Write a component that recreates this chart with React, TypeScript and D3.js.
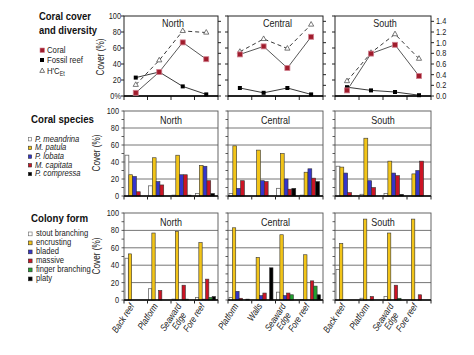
import React from "react";
import * as d3 from "d3";

const FONT = "'Liberation Sans',Arial,sans-serif";
const SQ = 0.82; // horizontal condensing to mimic a narrow face

// ---------- data ----------
const regions = ["North", "Central", "South"];
const habitatsNorth = ["Back reef", "Platform", "Seaward|Edge", "Fore reef"];
const habitatsCentral = ["Platform", "Walls", "Seaward|Edge", "Fore reef"];
const habitatsSouth = ["Back reef", "Platform", "Seaward|Edge", "Fore reef"];

// Coral cover and diversity
const coralNorth = [4, 30, 67, 46];
const coralCentral = [52, 62, 35, 74];
const coralSouth = [7, 53, 64, 25];
const fossilNorth = [23, 30, 12, 2];
const fossilCentral = [10, 4, 10, 2];
const fossilSouth = [11, 7, 5, 1];
const hceNorth = [0.21, 0.67, 1.22, 1.19];
const hceCentral = [0.83, 1.07, 0.89, 1.34];
const hceSouth = [0.28, 0.81, 1.16, 0.7];

// Coral species (series x habitat)
const speciesNames = ["P. meandrina", "M. patula", "P. lobata", "M. capitata", "P. compressa"];
const speciesColors = ["#ffffff", "#f2c418", "#3535cc", "#cc1424", "#000000"];
const speciesNorth = [
  [48, 12, 1, 3],
  [25, 45, 48, 36],
  [23, 17, 25, 35],
  [5, 13, 25, 18],
  [0, 0, 1, 3],
];
const speciesCentral = [
  [3, 0, 9, 1],
  [59, 54, 50, 28],
  [9, 18, 20, 32],
  [18, 17, 8, 21],
  [0, 0, 9, 17],
];
const speciesSouth = [
  [35, 2, 3, 0],
  [34, 68, 41, 26],
  [27, 18, 27, 30],
  [4, 10, 24, 41],
  [0, 0, 2, 0],
];

// Colony form (series x habitat)
const formNames = ["stout branching", "encrusting", "bladed", "massive", "finger branching", "platy"];
const formColors = ["#ffffff", "#f2c418", "#3535cc", "#cc1424", "#22a030", "#000000"];
const formNorth = [
  [48, 13, 1, 3],
  [53, 77, 79, 66],
  [0, 0, 0, 1],
  [0, 11, 17, 24],
  [0, 0, 1, 3],
  [0, 0, 0, 4],
];
const formCentral = [
  [3, 0, 9, 0.5],
  [83, 49, 75, 52],
  [10, 5, 5, 0],
  [2, 8, 8, 22],
  [0, 0, 6, 16],
  [1, 37, 0, 6],
];
const formSouth = [
  [35, 2, 4, 0],
  [65, 93, 77, 93],
  [0, 0, 0, 0],
  [0, 4, 17, 6],
  [0, 0, 2, 0],
  [0, 0, 0, 0],
];

const yTicksPct = [0, 20, 40, 60, 80, 100];
const yTicksRight = [0, 0.2, 0.4, 0.6, 0.8, 1.0, 1.2, 1.4];

// ---------- layout ----------
const panelX: [number, number][] = [
  [124, 218],
  [228, 323],
  [335, 431],
];
const habitatSets = [habitatsNorth, habitatsCentral, habitatsSouth];
const coralSets = [coralNorth, coralCentral, coralSouth];
const fossilSets = [fossilNorth, fossilCentral, fossilSouth];
const hceSets = [hceNorth, hceCentral, hceSouth];
const speciesSets = [speciesNorth, speciesCentral, speciesSouth];
const formSets = [formNorth, formCentral, formSouth];

const yTop = d3.scaleLinear().domain([0, 100]).range([96, 16]);
const yRight = d3.scaleLinear().domain([0, 1.5]).range([96, 16]);
const yMid = d3.scaleLinear().domain([0, 100]).range([196, 111]);
const yBot = d3.scaleLinear().domain([0, 100]).range([300, 213]);

function bandFor(idx: number) {
  return d3.scaleBand<number>().domain(d3.range(4)).range(panelX[idx]).paddingInner(0).paddingOuter(0);
}

function T(props: {
  x: number;
  y: number;
  size: number;
  anchor?: string;
  italic?: boolean;
  rotate?: number;
  children: React.ReactNode;
}) {
  const { x, y, size, anchor = "start", italic = false, rotate = 0, children } = props;
  return (
    <text
      transform={`translate(${x},${y}) rotate(${rotate}) scale(${SQ},1)`}
      fontSize={size}
      textAnchor={anchor}
      fontStyle={italic ? "italic" : "normal"}
      fontFamily={FONT}
      fill="#222"
    >
      {children}
    </text>
  );
}

function TopPanel({ idx }: { idx: number }) {
  const [x0, x1] = panelX[idx];
  const x = bandFor(idx);
  const cx = (i: number) => (x(i) as number) + x.bandwidth() / 2;
  const coral = coralSets[idx];
  const fossil = fossilSets[idx];
  const hce = hceSets[idx];
  const linePct = d3.line<number>().x((_, i) => cx(i)).y((d) => yTop(d));
  const lineR = d3.line<number>().x((_, i) => cx(i)).y((d) => yRight(d));
  return (
    <g>
      <rect x={x0} y={yTop(100)} width={x1 - x0} height={yTop(0) - yTop(100)} fill="none" stroke="#222" strokeWidth={1} />
      {yTicksPct.map((t) => (
        <line key={"l" + t} x1={x0 - 3} x2={x0} y1={yTop(t)} y2={yTop(t)} stroke="#222" />
      ))}
      {yTicksRight.map((t) => (
        <line key={"r" + t} x1={x1} x2={x1 + 3} y1={yRight(t)} y2={yRight(t)} stroke="#222" />
      ))}
      {d3.range(5).map((i) => {
        const xx = i < 4 ? (x(i) as number) : x1;
        return <line key={"x" + i} x1={xx} x2={xx} y1={yTop(0)} y2={yTop(0) + 4} stroke="#222" />;
      })}
      <line x1={x0} x2={x1} y1={yTop(0)} y2={yTop(0)} stroke="#000" strokeWidth={1.5} />
      {idx === 0 &&
        yTicksPct.map((t) => (
          <T key={"tl" + t} x={x0 - 3} y={yTop(t) + 3} size={9} anchor="end">
            {t === 0 ? "0%" : String(t)}
          </T>
        ))}
      {idx === 2 &&
        yTicksRight.map((t) => (
          <T key={"tr" + t} x={x1 + 5} y={yRight(t) + 3} size={9}>
            {t.toFixed(1)}
          </T>
        ))}
      <T x={(x0 + x1) / 2 + 2} y={27} size={11} anchor="middle">
        {regions[idx]}
      </T>
      <path d={lineR(hce) || ""} fill="none" stroke="#222" strokeWidth={0.9} strokeDasharray="4,3" />
      <path d={linePct(fossil) || ""} fill="none" stroke="#222" strokeWidth={0.9} />
      <path d={linePct(coral) || ""} fill="none" stroke="#444" strokeWidth={0.9} />
      {hce.map((v, i) => (
        <path
          key={"h" + i}
          d={`M${cx(i)},${yRight(v) - 3}L${cx(i) + 2.6},${yRight(v) + 1.6}L${cx(i) - 2.6},${yRight(v) + 1.6}Z`}
          fill="#fff"
          stroke="#555"
          strokeWidth={0.8}
        />
      ))}
      {fossil.map((v, i) => (
        <rect key={"f" + i} x={cx(i) - 2} y={yTop(v) - 2} width={4} height={4} fill="#000" />
      ))}
      {coral.map((v, i) => (
        <rect key={"c" + i} x={cx(i) - 2.5} y={yTop(v) - 2.5} width={5} height={5} fill="#a01c2c" stroke="#d08090" strokeWidth={0.8} />
      ))}
    </g>
  );
}

function BarPanel({ idx, data, colors, y, labels }: { idx: number; data: number[][]; colors: string[]; y: d3.ScaleLinear<number, number>; labels: boolean }) {
  const [x0, x1] = panelX[idx];
  const x = bandFor(idx);
  const n = data.length;
  const bw = x.bandwidth() * (n === 5 ? 0.162 : 0.142);
  const minor = d3.range(0, 101, 10);
  const cats = habitatSets[idx];
  return (
    <g>
      {[20, 40, 60, 80].map((t) => (
        <line key={"g" + t} x1={x0} x2={x1} y1={y(t)} y2={y(t)} stroke="#666" strokeWidth={0.9} />
      ))}
      <rect x={x0} y={y(100)} width={x1 - x0} height={y(0) - y(100)} fill="none" stroke="#555" strokeWidth={0.9} />
      {minor.map((t) => (
        <line key={"m" + t} x1={x0 - 2.5} x2={x0} y1={y(t)} y2={y(t)} stroke="#333" strokeWidth={0.8} />
      ))}
      {idx === 0 &&
        yTicksPct.map((t) => (
          <T key={"tl" + t} x={x0 - 5} y={y(t) + 3} size={9} anchor="end">
            {String(t)}
          </T>
        ))}
      <T x={(x0 + x1) / 2} y={(y(100) + y(80)) / 2 + 4} size={11} anchor="middle">
        {regions[idx]}
      </T>
      {data.map((series, s) =>
        series.map((v, i) =>
          v > 0 ? (
            <rect
              key={s + "-" + i}
              x={(x(i) as number) + 1 + s * bw}
              y={y(v)}
              width={bw}
              height={y(0) - y(v)}
              fill={colors[s]}
              stroke={s === 0 ? "#6a6a6a" : "#333"}
              strokeWidth={s === 0 ? 0.8 : 0.6}
            />
          ) : null
        )
      )}
      <line x1={x0} x2={x1} y1={y(0)} y2={y(0)} stroke="#000" strokeWidth={1.6} />
      {d3.range(5).map((i) => {
        const xx = i < 4 ? (x(i) as number) : x1;
        return <line key={"x" + i} x1={xx} x2={xx} y1={y(0)} y2={y(0) + 3.5} stroke="#222" />;
      })}
      {labels &&
        cats.map((c, i) => {
          const cx = (x(i) as number) + x.bandwidth() / 2;
          const parts = c.split("|");
          return (
            <g key={"lab" + i} transform={`translate(${cx - 1},${y(0) + 6}) rotate(-57)`}>
              <T x={0} y={0} size={9.5} italic anchor="end">
                {parts[0]}
              </T>
              {parts[1] && (
                <T x={-14} y={9} size={9.5} italic anchor="middle">
                  {parts[1]}
                </T>
              )}
            </g>
          );
        })}
    </g>
  );
}

function CoverLabel({ x, y }: { x: number; y: number }) {
  return (
    <text transform={`translate(${x},${y}) rotate(-90) scale(${SQ},1)`} fontSize={10} textAnchor="middle" fontFamily={FONT} fill="#222">
      Cover (%)
    </text>
  );
}

export default function App() {
  return (
    <svg width={474} height={355} style={{ position: "absolute", left: 0, top: 0, background: "#fff" }}>
      <rect x={0} y={0} width={474} height={355} fill="#fff" />
      {/* Titles */}
      <text x={39} y={20} fontSize={11.5} fontWeight="bold" fontFamily={FONT} fill="#111" textLength={52} lengthAdjust="spacingAndGlyphs">
        Coral cover
      </text>
      <text x={39} y={34} fontSize={11.5} fontWeight="bold" fontFamily={FONT} fill="#111" textLength={58} lengthAdjust="spacingAndGlyphs">
        and diversity
      </text>
      <text x={31} y={123} fontSize={11.5} fontWeight="bold" fontFamily={FONT} fill="#111" textLength={63} lengthAdjust="spacingAndGlyphs">
        Coral species
      </text>
      <text x={31} y={222} fontSize={11.5} fontWeight="bold" fontFamily={FONT} fill="#111" textLength={57} lengthAdjust="spacingAndGlyphs">
        Colony form
      </text>

      {/* Top legend */}
      <rect x={40} y={48} width={4.5} height={4.5} fill="#a01c2c" stroke="#d08090" strokeWidth={0.6} />
      <T x={47} y={53} size={9.5}>Coral</T>
      <rect x={40} y={58} width={4} height={4} fill="#000" />
      <T x={47} y={63} size={9.5}>Fossil reef</T>
      <path d="M42.2,68L44.6,72.4L39.8,72.4Z" fill="#fff" stroke="#555" strokeWidth={0.8} />
      <T x={47} y={74} size={9.5}>
        H'C<tspan fontSize={6.5} dy={2}>Et</tspan>
      </T>

      {/* Species legend */}
      {speciesNames.map((nm, i) => (
        <g key={nm}>
          <rect x={28.3} y={137.5 + i * 8.7} width={3.4} height={3.4} fill={speciesColors[i]} stroke={i === 0 ? "#666" : "#333"} strokeWidth={0.6} />
          <T x={35} y={141.5 + i * 8.7} size={9.3} italic>
            {nm}
          </T>
        </g>
      ))}

      {/* Form legend */}
      {formNames.map((nm, i) => (
        <g key={nm}>
          <rect x={28.3} y={232 + i * 9} width={3.8} height={3.8} fill={formColors[i]} stroke={i === 0 ? "#666" : "#333"} strokeWidth={0.6} />
          <T x={36} y={236 + i * 9} size={9.3}>
            {nm}
          </T>
        </g>
      ))}

      <CoverLabel x={104} y={57} />
      <CoverLabel x={100} y={153} />
      <CoverLabel x={100} y={256} />

      {[0, 1, 2].map((i) => (
        <TopPanel key={"t" + i} idx={i} />
      ))}
      {[0, 1, 2].map((i) => (
        <BarPanel key={"m" + i} idx={i} data={speciesSets[i]} colors={speciesColors} y={yMid} labels={false} />
      ))}
      {[0, 1, 2].map((i) => (
        <BarPanel key={"b" + i} idx={i} data={formSets[i]} colors={formColors} y={yBot} labels={true} />
      ))}
    </svg>
  );
}
